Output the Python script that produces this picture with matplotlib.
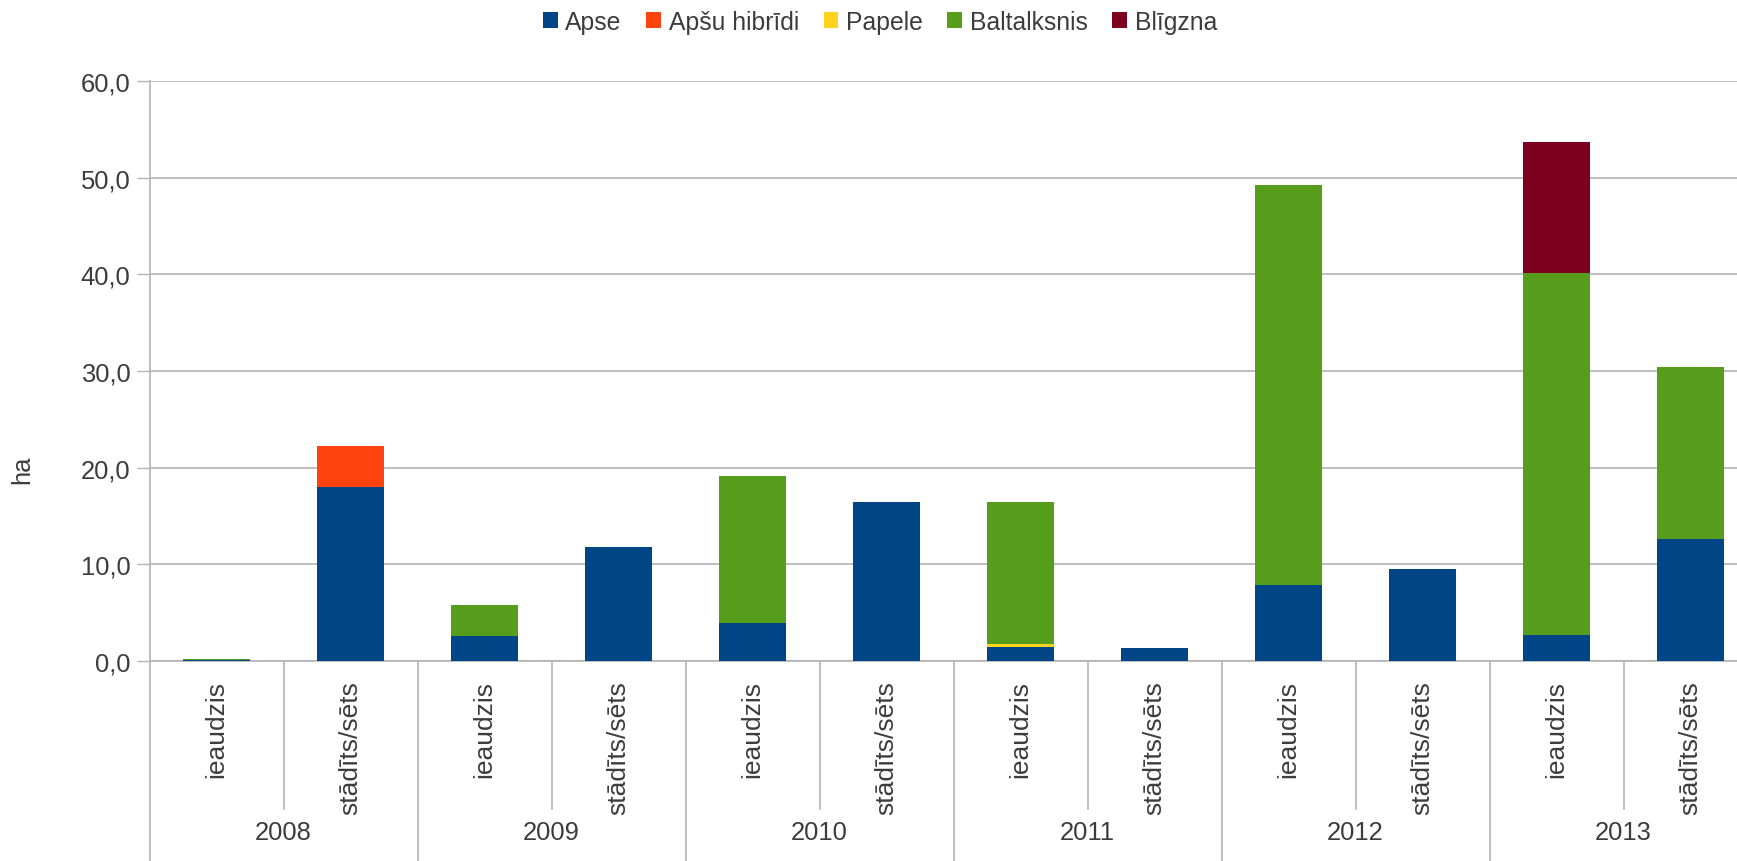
import matplotlib
matplotlib.use("Agg")
import matplotlib.pyplot as plt
import matplotlib.transforms as mtransforms
import numpy as np

years = ["2008", "2009", "2010", "2011", "2012", "2013"]
kinds = ["ieaudzis", "stādīts/sēts"]
categories = [k for y in years for k in kinds]

series_names = ["Apse", "Apšu hibrīdi", "Papele", "Baltalksnis", "Blīgzna"]
apse        = [0.1, 18.0, 2.6, 11.8, 3.9, 16.5, 1.5, 1.3, 7.9, 9.5, 2.7, 12.6]
apsu_hib    = [0.0, 4.2, 0.0, 0.0, 0.0, 0.0, 0.0, 0.0, 0.0, 0.0, 0.0, 0.0]
papele      = [0.0, 0.0, 0.0, 0.0, 0.0, 0.0, 0.3, 0.0, 0.0, 0.0, 0.0, 0.0]
baltalksnis = [0.1, 0.0, 3.2, 0.0, 15.2, 0.0, 14.6, 0.0, 41.3, 0.0, 37.4, 17.8]
bligzna     = [0.0, 0.0, 0.0, 0.0, 0.0, 0.0, 0.0, 0.0, 0.0, 0.0, 13.6, 0.0]
series = [apse, apsu_hib, papele, baltalksnis, bligzna]
colors = ["#004586", "#ff420e", "#ffd320", "#579d1c", "#7e0021"]
yticks = [0, 10, 20, 30, 40, 50, 60]

plt.rcParams['font.family'] = ['Liberation Sans', 'DejaVu Sans']
txt = "#3c3c3c"
grid_c = "#b3b3b3"
fs = 18.4

W, H = 1737, 862
fig = plt.figure(figsize=(W / 100, H / 100), dpi=100)
ax_left, ax_right = 149.6, 1757.6
ax_top, ax_bot = 82, 662
ax = fig.add_axes([ax_left / W, (H - ax_bot) / H, (ax_right - ax_left) / W, (ax_bot - ax_top) / H])

x = np.arange(len(categories))
bottom = np.zeros(len(categories))
handles = []
for name, vals, c in zip(series_names, series, colors):
    v = np.array(vals)
    b = ax.bar(x, v, 0.5, bottom=bottom, color=c, label=name, zorder=3, linewidth=0)
    handles.append(b)
    bottom += v

ax.set_xlim(-0.5, len(categories) - 0.5)
ax.set_ylim(0, 60)
ax.set_yticks(yticks)
ax.set_yticklabels([f"{t:.1f}".replace(".", ",") for t in yticks], fontsize=fs, color=txt)
ax.yaxis.grid(True, color=grid_c, linewidth=1.2, zorder=0)
ax.set_axisbelow(True)
ax.tick_params(axis='y', length=9.4, width=1, color=grid_c, pad=4.5)

ax.set_xticks(x)
ax.set_xticklabels(categories, rotation=90, fontsize=fs + 0.6, color=txt, va='top', ha='center')
ax.tick_params(axis='x', length=0, pad=14)

for s in ["top", "right"]:
    ax.spines[s].set_visible(False)
ax.spines["left"].set_color(grid_c)
ax.spines["bottom"].set_color(grid_c)
ax.spines["left"].set_linewidth(1.2)
ax.spines["bottom"].set_linewidth(1.2)

trans = mtransforms.blended_transform_factory(ax.transData, ax.transAxes)
axh = ax_bot - ax_top
inner_end = -(810 - ax_bot) / axh
outer_end = -(H - ax_bot + 2) / axh
for i in range(len(categories) + 1):
    xs = i - 0.5
    end = outer_end if i % 2 == 0 else inner_end
    ax.plot([xs, xs], [0, end], transform=trans, color=grid_c, linewidth=1.2, clip_on=False)

year_y = -(833 - ax_bot) / axh
for g, yr in enumerate(years):
    ax.text(2 * g + 0.5, year_y, yr, transform=trans, ha='center', va='center', fontsize=fs, color=txt)

fig.text(22 / W, 1 - 470 / H, "ha", rotation=90, ha='center', va='center', fontsize=fs, color=txt)

fig.legend(handles=handles, labels=series_names, loc='center', bbox_to_anchor=(880 / W, 1 - 23 / H),
           ncol=5, frameon=False, fontsize=17.8, handlelength=0.6, handleheight=0.6,
           handletextpad=0.3, columnspacing=1.0, labelcolor=txt)

fig.savefig("out.png", dpi=100)
